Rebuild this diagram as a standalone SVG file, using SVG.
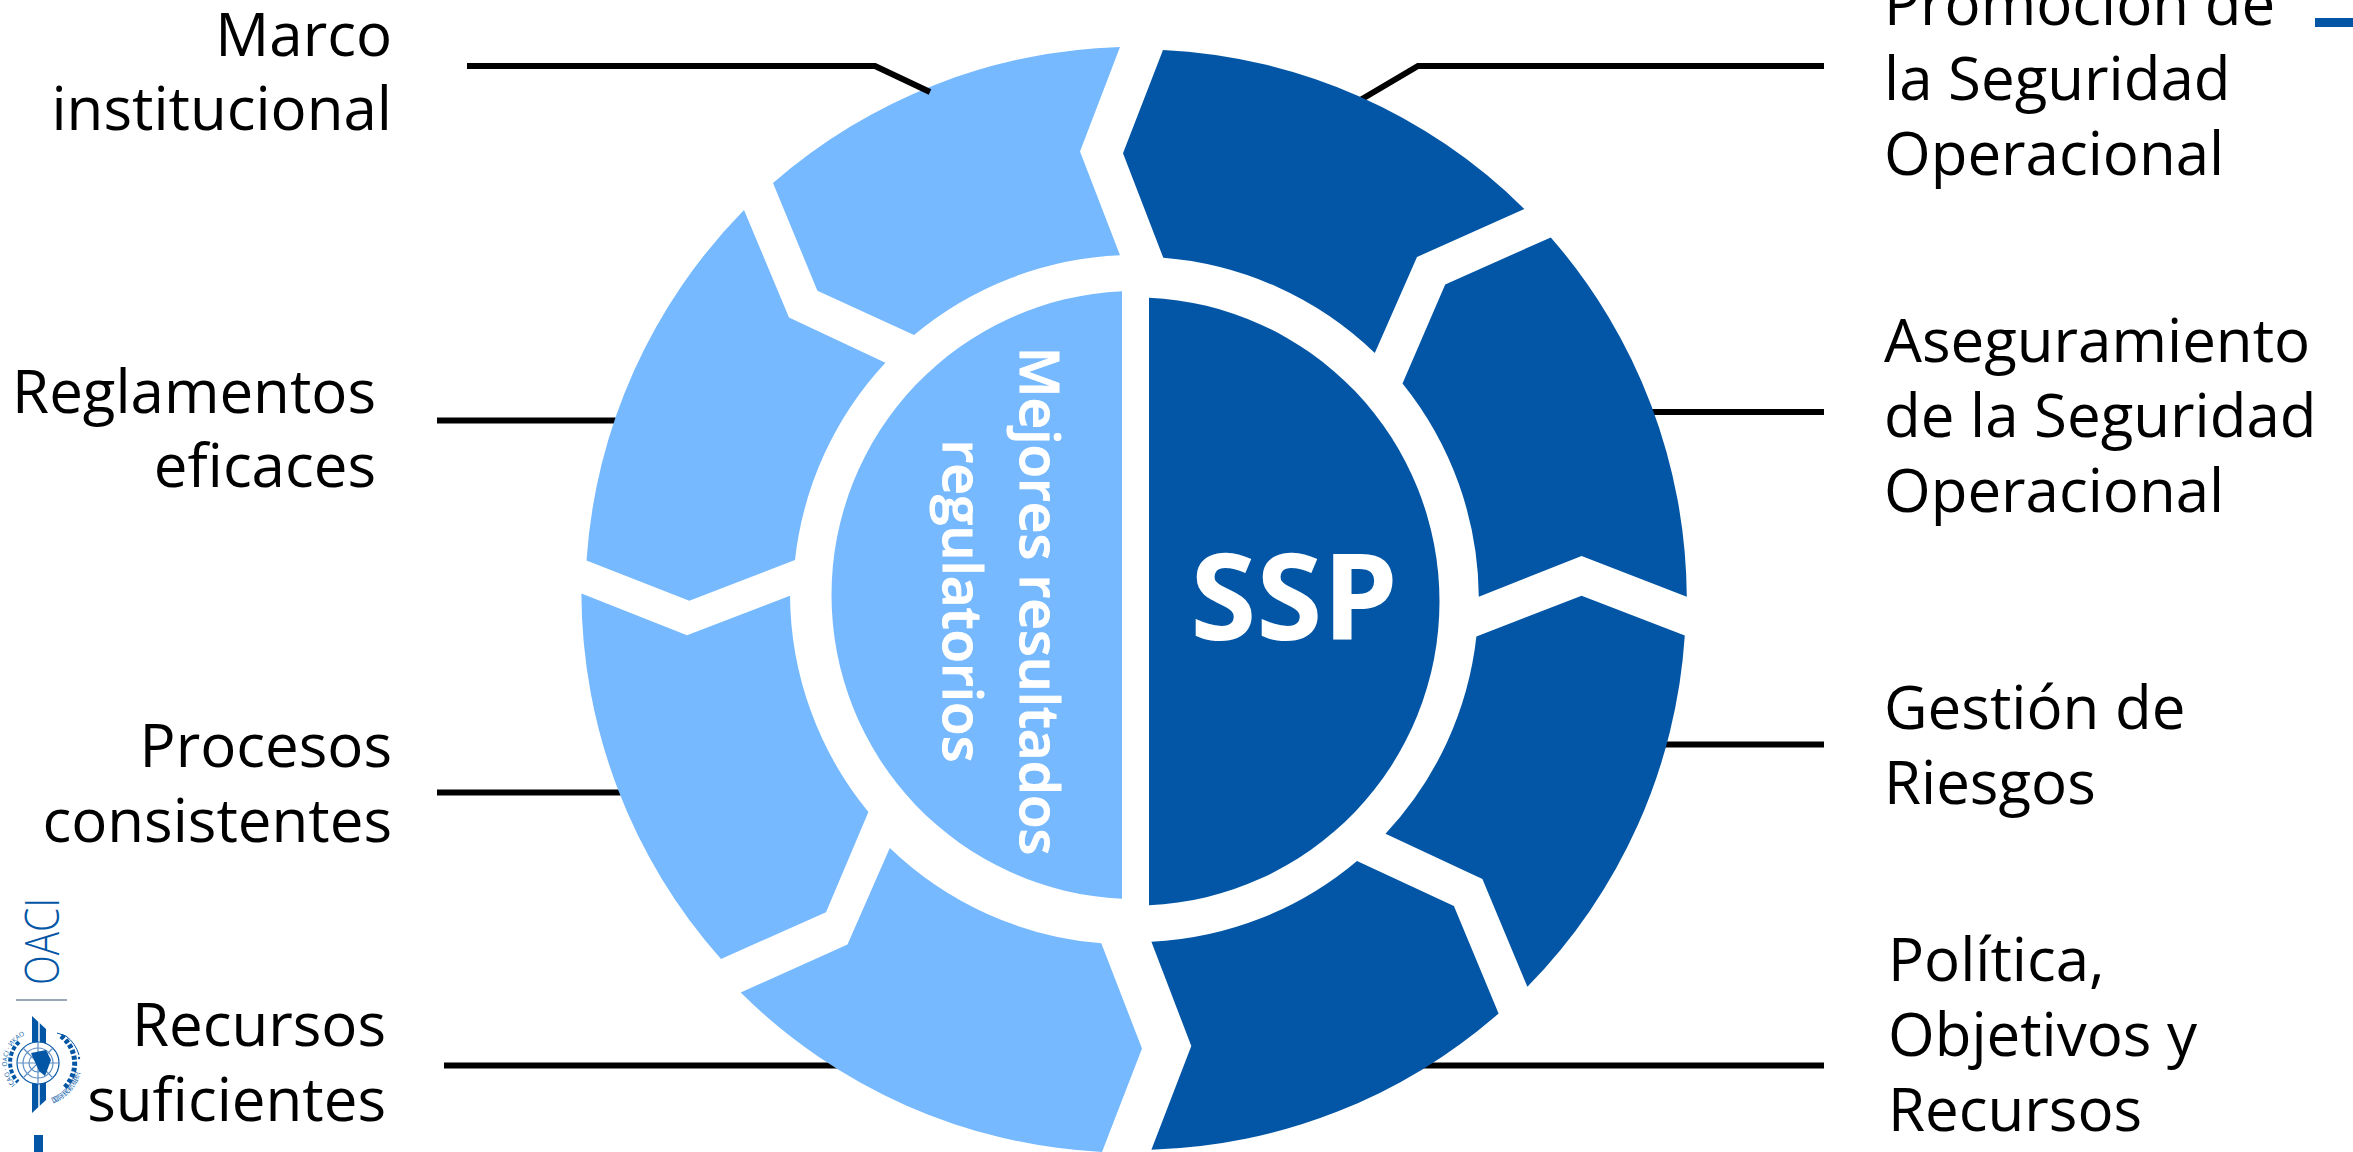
<svg xmlns="http://www.w3.org/2000/svg" width="2353" height="1152" viewBox="0 0 2353 1152">
<style>
.lab{font-family:"Open Sans","Noto Sans",sans-serif;font-size:60px;fill:#000}
.r{text-anchor:end}
.l{fill:#76B9FF}
.d{fill:#0356A5}
.c{fill:none;stroke:#000;stroke-width:6}
.lb{fill:#0356A5}
.ring{fill:none;stroke:#5E8FC4;stroke-width:1.200}
.em{font-family:"Open Sans","Noto Sans CJK SC",sans-serif;font-size:6.500px;fill:#0356A5}
</style>
<rect width="2353" height="1152" fill="#fff"/>
<defs>
<path id="arc-icao" d="M15.700,1084.500 A31,31 0 0 1 27.400,1033.900"/>
<path id="arc-cn" d="M53,1103 A43,43 0 0 0 81,1068"/>
</defs>
<g id="seg-marco"><path class="l" d="M773,183 A553,553 0 0 1 1120,47 L1080,151.400 L1120,255.300 A345,345 0 0 0 914,335 L817.400,290.700 Z"/></g>
<g id="connectors">
<polyline class="c" points="467,66 875,66 930,92"/>
<line class="c" x1="437" y1="420.500" x2="640" y2="420.500"/>
<line class="c" x1="437" y1="792.500" x2="640" y2="792.500"/>
<line class="c" x1="444" y1="1065.500" x2="860" y2="1065.500"/>
<polyline class="c" points="1824,66 1418,66 1340,112"/>
<line class="c" x1="1824" y1="412" x2="1640" y2="412"/>
<line class="c" x1="1824" y1="744.500" x2="1640" y2="744.500"/>
<line class="c" x1="1824" y1="1065.500" x2="1400" y2="1065.500"/>
</g>
<g id="seg-reglamentos"><path class="l" d="M744,210 L789,317.500 L885.400,362.800 A345,345 0 0 0 795,560 L689.300,600.800 L586.500,560.600 A553,553 0 0 1 744,210 Z"/></g>
<g id="seg-procesos"><path class="l" d="M581.400,593.500 L687,635.200 L790,595.700 A345,345 0 0 0 868.400,812 L826,912.200 L721,959 A553,553 0 0 1 581.400,593.500 Z"/></g>
<g id="seg-recursos"><path class="l" d="M889.800,848 A345,345 0 0 0 1101.300,943.300 L1142,1048.600 L1102,1152 A553,553 0 0 1 740.700,992.600 L847.500,944.400 Z"/></g>
<g id="seg-promocion"><path class="d" d="M1163,50 A552,552 0 0 1 1524.300,208.900 L1417,257 L1374.800,353 A344,344 0 0 0 1163.300,257.800 L1123,153.200 Z"/></g>
<g id="seg-aseguramiento"><path class="d" d="M1550.800,237.400 A552,552 0 0 1 1686.800,596.800 L1581.600,556 L1478.800,596.700 A344,344 0 0 0 1402.500,383.400 L1445.200,284.500 Z"/></g>
<g id="seg-gestion"><path class="d" d="M1476.400,636.600 L1581.600,595.700 L1684.800,635.600 A552,552 0 0 1 1527.400,986.800 L1482.400,879 L1385.500,833.700 A344,344 0 0 0 1476.400,636.600 Z"/></g>
<g id="seg-politica"><path class="d" d="M1357,861 L1453.900,906 L1498.600,1013.500 A552,552 0 0 1 1151.400,1149.800 L1191.300,1046 L1151.400,941.800 A344,344 0 0 0 1357,861 Z"/></g>
<g id="hub-left"><path class="l" d="M1122,291.300 A304,304 0 0 0 1122,898.700 Z"/>
<text transform="translate(1020,601) rotate(90)" text-anchor="middle" style="font-family:'Open Sans','Noto Sans',sans-serif;font-size:55px;font-weight:600;fill:#fff;stroke:#fff;stroke-width:1"><tspan x="0" y="0">Mejores resultados</tspan><tspan x="0" y="77">regulatorios</tspan></text></g>
<g id="hub-right"><path class="d" d="M1149,297.800 A304,304 0 0 1 1149,905.200 Z"/>
<text x="1294" y="640" text-anchor="middle" style="font-family:'Open Sans','Noto Sans',sans-serif;font-size:120px;font-weight:700;fill:#fff">SSP</text></g>
<g id="label-marco"><text class="lab r" x="392" y="56">Marco</text><text class="lab r" x="392" y="130">institucional</text></g>
<g id="label-reglamentos"><text class="lab r" x="376" y="413">Reglamentos</text><text class="lab r" x="376" y="487">eficaces</text></g>
<g id="label-procesos"><text class="lab r" x="392" y="767">Procesos</text><text class="lab r" x="392" y="842">consistentes</text></g>
<g id="label-recursos"><text class="lab r" x="386" y="1046">Recursos</text><text class="lab r" x="386" y="1121">suficientes</text></g>
<g id="label-promocion"><text class="lab" x="1884" y="25">Promoción de</text><text class="lab" x="1884" y="100">la Seguridad</text><text class="lab" x="1884" y="175">Operacional</text></g>
<g id="label-aseguramiento"><text class="lab" x="1884" y="362">Aseguramiento</text><text class="lab" x="1884" y="437">de la Seguridad</text><text class="lab" x="1884" y="512">Operacional</text></g>
<g id="label-gestion"><text class="lab" x="1884" y="729">Gestión de</text><text class="lab" x="1884" y="804">Riesgos</text></g>
<g id="label-politica"><text class="lab" x="1888" y="981">Política,</text><text class="lab" x="1888" y="1056">Objetivos y</text><text class="lab" x="1888" y="1131">Recursos</text></g>
<rect class="lb" x="2315" y="18" width="38" height="9"/>
<rect class="lb" x="34" y="1135" width="9" height="17"/>
<g id="logo">
<text transform="translate(59,985) rotate(-90)" textLength="87" lengthAdjust="spacingAndGlyphs" style="font-family:'Open Sans',sans-serif;font-size:48px;font-weight:300;fill:#0356A5">OACI</text>
<rect x="16" y="999" width="51" height="2" fill="#9AA7B5"/>
<path class="lb" d="M32,1016 L46,1029 L46,1100 L32,1113 Z"/>
<path d="M39,1022 L39,1107" stroke="#fff" stroke-width="1.500"/>
<path d="M61,1036 A34,34 0 0 1 64,1088" fill="none" stroke="#0356A5" stroke-width="5" stroke-dasharray="4 2"/>
<path d="M19,1042 A28,28 0 0 0 18,1082" fill="none" stroke="#0356A5" stroke-width="4" stroke-dasharray="4 2"/>
<circle cx="38" cy="1063" r="21" fill="#fff" stroke="#0356A5" stroke-width="1.200"/>
<circle class="ring" cx="38" cy="1063" r="15"/>
<circle class="ring" cx="38" cy="1063" r="9"/>
<path class="ring" d="M17,1063 H59 M38,1042 V1084 M23,1048 L53,1078 M53,1048 L23,1078"/>
<path class="lb" d="M31,1053 L46,1050 L51,1060 L45,1076 L39,1071 L35,1062 Z"/>
<path d="M57,1033 L66,1036 A36,36 0 0 1 79,1055" fill="none" stroke="#0356A5" stroke-width="1"/>
<circle cx="79" cy="1058" r="1.200" class="lb"/>
<text class="em"><textPath href="#arc-icao">ICAO · OACI · ИКАО</textPath></text>
<text class="em" style="font-size:7px"><textPath href="#arc-cn">国际民航组织</textPath></text>
</g>
</svg>
